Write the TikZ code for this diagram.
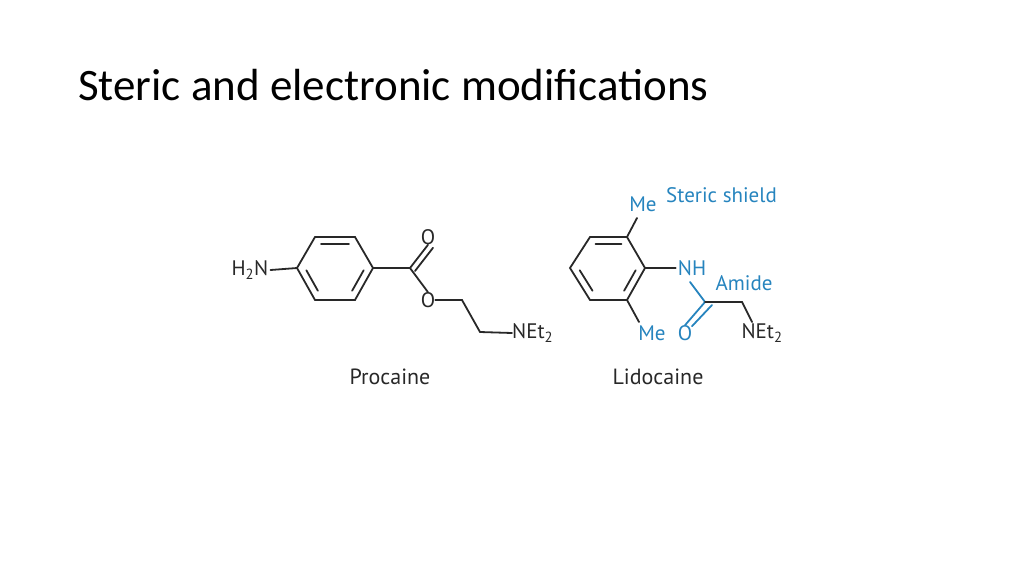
\documentclass[tikz,border=0pt]{standalone}
\usepackage{fontspec}
\usetikzlibrary{calc}
\setmainfont{PT Sans}
\newfontfamily\titlefont{Carlito}
\definecolor{chemblue}{RGB}{38,132,190}
\definecolor{bondgray}{RGB}{40,40,40}
\begin{document}
\begin{tikzpicture}[x=1pt,y=-1pt,
  bond/.style={draw=bondgray,line width=1.8pt,line cap=round},
  bbond/.style={draw=chemblue,line width=1.8pt,line cap=round},
  atom/.style={font=\fontsize{21}{21}\selectfont,text=bondgray,inner sep=0pt},
  batom/.style={font=\fontsize{21}{21}\selectfont,text=chemblue,inner sep=0pt},
  lbl/.style={font=\fontsize{22}{22}\selectfont,text=bondgray,inner sep=0pt}]
\useasboundingbox (0,0) rectangle (1024,576);
\node[anchor=base west,font=\titlefont\fontsize{45}{45}\selectfont,inner sep=0pt] (title) at (78,100) {Steric and electronic modifications};
% Procaine
\coordinate (p1) at (297,268); \coordinate (p2) at (315,237); \coordinate (p3) at (355,237);
\coordinate (p4) at (373,268); \coordinate (p5) at (355,300); \coordinate (p6) at (315,300);
\draw[bond] (p1)--(p2)--(p3)--(p4)--(p5)--(p6)--cycle;
\draw[bond] ($(p2)!0.15!(p3)+(0,7)$)--($(p2)!0.85!(p3)+(0,7)$);
\draw[bond] ($(p1)!0.18!(p6)+(6.1,-3.5)$)--($(p1)!0.82!(p6)+(6.1,-3.5)$);
\draw[bond] ($(p4)!0.18!(p5)+(-6.1,-3.5)$)--($(p4)!0.82!(p5)+(-6.1,-3.5)$);
\node[atom] (h2n) at (250,270) {H\textsubscript{2}N};
\draw[bond] ($(h2n.east)+(2,0)$) -- (p1);
\coordinate (pc) at (410,268);
\node[atom] (po1) at (428,237) {O};
\node[atom] (po2) at (428,300) {O};
\coordinate (pm1) at (462,300); \coordinate (pm2) at (480,332);
\node[atom,anchor=west] (pn) at (512,333) {NEt\textsubscript{2}};
\draw[bond] (p4)--(pc)--(po1.south);
\draw[bond] ($(pc)+(5,3)$)--($(po1.south)+(5,3)$);
\draw[bond] (pc)--(po2.north);
\draw[bond] (po2.east)--(pm1)--(pm2)--(pn.west);
\node[lbl] (proc) at (390,377) {Procaine};
% Lidocaine
\coordinate (l1) at (570,268); \coordinate (l2) at (590,237); \coordinate (l3) at (627,237);
\coordinate (l4) at (645,268); \coordinate (l5) at (627,300); \coordinate (l6) at (590,300);
\draw[bond] (l1)--(l2)--(l3)--(l4)--(l5)--(l6)--cycle;
\draw[bond] ($(l2)!0.15!(l3)+(0,7)$)--($(l2)!0.85!(l3)+(0,7)$);
\draw[bond] ($(l1)!0.18!(l6)+(6.1,-3.5)$)--($(l1)!0.82!(l6)+(6.1,-3.5)$);
\draw[bond] ($(l4)!0.18!(l5)+(-6.1,-3.5)$)--($(l4)!0.82!(l5)+(-6.1,-3.5)$);
\node[batom] (me1) at (643,204) {Me};
\node[batom,anchor=west] (ss) at (666,195) {Steric shield};
\draw[bond] (l3)--(637,218);
\node[batom] (nh) at (692,268) {NH};
\draw[bond] (l4)--($(nh.west)+(-2,0)$);
\node[batom] (me2) at (652,333) {Me};
\draw[bond] (l5)--(639,322);
\coordinate (lc) at (705,302);
\node[batom] (lo) at (685,333) {O};
\coordinate (lm) at (742,302);
\node[batom] (amide) at (744,283) {Amide};
\node[atom] (ln) at (762,333) {NEt\textsubscript{2}};
\draw[bbond] (690,282)--(lc)--(lo.north);
\draw[bbond] ($(lc)+(7,3)$)--($(lo.north)+(7,1)$);
\draw[bond] (lc)--(lm)--(752,322);
\node[lbl] (lido) at (658,377) {Lidocaine};
\end{tikzpicture}
\end{document}
